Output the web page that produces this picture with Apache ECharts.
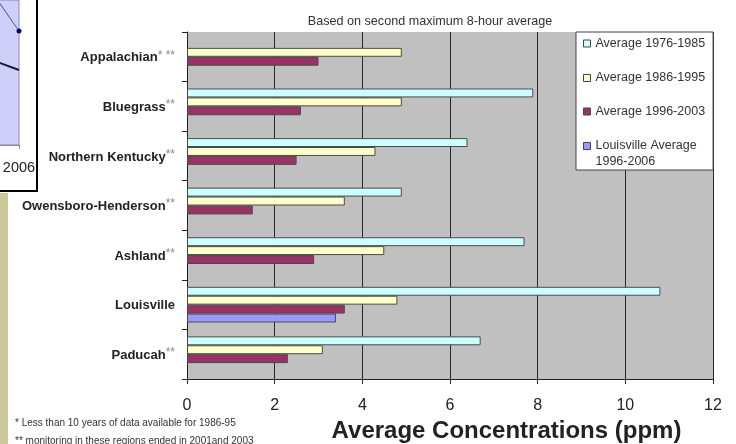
<!DOCTYPE html>
<html>
<head>
<meta charset="utf-8">
<script src="https://cdn.jsdelivr.net/npm/echarts@6/dist/echarts.min.js"></script>
<style>
  html, body { margin: 0; padding: 0; background: #fff; }
  #chart { width: 736px; height: 444px; }
</style>
</head>
<body>
<div id="chart"></div>
<script>
// Regions (top to bottom); asterisks mark the footnotes below the chart
const regions = [
  'Appalachian* **',
  'Bluegrass**',
  'Northern Kentucky**',
  'Owensboro-Henderson**',
  'Ashland**',
  'Louisville',
  'Paducah**'
];

// Average ozone concentrations (ppm) per period
const avg1976to1985 = [null, 7.9, 6.4, 4.9, 7.7, 10.8, 6.7];
const avg1986to1995 = [4.9, 4.9, 4.3, 3.6, 4.5, 4.8, 3.1];
const avg1996to2003 = [3.0, 2.6, 2.5, 1.5, 2.9, 3.6, 2.3];
const louisville1996to2006 = [null, null, null, null, null, 3.4, null];

const seriesNames = [
  'Average 1976-1985',
  'Average 1986-1995',
  'Average 1996-2003',
  'Louisville Average 1996-2006'
];

const xTicks = { min: 0, max: 12, step: 2 };

// Edge of the neighbouring trend chart (last years only)
const trendYears = ['2004', '2005', '2006'];
const trendUpper = [1.2, 0.99, 0.786];
const trendLower = [0.6, 0.569, 0.517];

const footnotes = [
  '* Less than 10 years of data available for 1986-95',
  '** monitoring in these regions ended in 2001and 2003'
];

const colors = ['#CCFFFF', '#FFFFCC', '#993366', '#9999FF'];
const seriesData = [avg1976to1985, avg1986to1995, avg1996to2003, louisville1996to2006];

const chart = echarts.init(document.getElementById('chart'), null, { renderer: 'canvas' });

function regionLabel(v) {
  const i = v.indexOf('*');
  if (i < 0) return '{n|' + v + '}';
  return '{n|' + v.slice(0, i) + '}{s|' + v.slice(i) + '}';
}

// Row heights of the legend entries; the two-line entry keeps its swatch on the first line
const legendItemStyles = [
  { lineHeight: 23 },
  { lineHeight: 46 },
  { lineHeight: 21 },
  { lineHeight: 16 }
];

const option = {
  animation: false,
  backgroundColor: '#ffffff',
  title: {
    text: 'Based on second maximum 8-hour average',
    left: 425,
    top: 10,
    textAlign: 'center',
    textStyle: { fontFamily: 'Arial, Liberation Sans', fontSize: 12.6, fontWeight: 'normal', color: '#333' }
  },
  legend: {
    orient: 'vertical',
    left: 576,
    top: 32,
    padding: [0, 8, 0, 7],
    itemGap: 0,
    itemWidth: 7,
    itemHeight: 7,
    icon: 'rect',
    backgroundColor: '#ffffff',
    borderColor: '#444',
    borderWidth: 1,
    borderRadius: 0,
    textStyle: {
      fontFamily: 'Arial, Liberation Sans',
      fontSize: 12.5,
      color: '#333'
    },
    itemStyle: { borderColor: '#444', borderWidth: 1 },
    formatter: function (name) {
      return name === seriesNames[3] ? ' \nLouisville Average\n1996-2006' : name;
    },
    data: seriesNames.map(function (n, i) {
      return { name: n, textStyle: legendItemStyles[i] };
    }),
    selectedMode: false
  },
  grid: [
    {
      left: 187, top: 32, width: 526, height: 347,
      outerBoundsMode: 'none', containLabel: false,
      show: true, backgroundColor: '#C0C0C0', borderWidth: 0
    },
    {
      left: -22, top: 0, width: 41, height: 145,
      outerBoundsMode: 'none', containLabel: false,
      show: true, backgroundColor: '#CFCFFA', borderColor: '#8a8a9a', borderWidth: 1
    }
  ],
  xAxis: [
    {
      type: 'value',
      gridIndex: 0,
      min: xTicks.min,
      max: xTicks.max,
      interval: xTicks.step,
      name: 'Average Concentrations (ppm)',
      nameLocation: 'middle',
      nameGap: 38,
      nameTextStyle: {
        fontFamily: 'Arial, Liberation Sans',
        fontSize: 24,
        fontWeight: 'bold',
        color: '#222',
        padding: [0, 0, 0, 113]
      },
      axisLine: { show: true, lineStyle: { color: '#222', width: 1 } },
      axisTick: { show: true, length: 5, lineStyle: { color: '#222' } },
      axisLabel: { margin: 19, fontFamily: 'Arial, Liberation Sans', fontSize: 16, color: '#222' },
      splitLine: { show: true, lineStyle: { color: '#2a2a2a', width: 1 } }
    },
    {
      type: 'category',
      gridIndex: 1,
      data: trendYears,
      boundaryGap: false,
      axisLine: { show: true, lineStyle: { color: '#8a8a9a' } },
      axisTick: { show: true, length: 4, lineStyle: { color: '#8a8a9a' } },
      axisLabel: {
        margin: 15,
        fontFamily: 'Arial, Liberation Sans',
        fontSize: 14.5,
        color: '#222',
        interval: function (i) { return i === trendYears.length - 1; }
      },
      splitLine: { show: false }
    }
  ],
  yAxis: [
    {
      type: 'category',
      gridIndex: 0,
      inverse: true,
      data: regions,
      axisLine: { show: true, lineStyle: { color: '#222', width: 1 } },
      axisTick: { show: true, length: 5, lineStyle: { color: '#222' } },
      axisLabel: {
        margin: 12,
        formatter: regionLabel,
        rich: {
          n: { fontFamily: 'Arial, Liberation Sans', fontSize: 13, fontWeight: 'bold', color: '#222', padding: [2, 0, 0, 0] },
          s: { fontFamily: 'Arial, Liberation Sans', fontSize: 12, color: '#8a8a8a', verticalAlign: 'top' }
        }
      },
      splitLine: { show: false }
    },
    {
      type: 'value',
      gridIndex: 1,
      min: 0,
      max: 1,
      show: false
    }
  ],
  series: seriesData.map(function (d, i) {
    return {
      name: seriesNames[i],
      type: 'bar',
      xAxisIndex: 0,
      yAxisIndex: 0,
      data: d,
      barGap: 0,
      barCategoryGap: '28%',
      itemStyle: { color: colors[i], borderColor: '#4a4a4a', borderWidth: 1 }
    };
  }).concat([
    {
      name: 'trend-upper',
      type: 'line',
      xAxisIndex: 1,
      yAxisIndex: 1,
      data: trendUpper.map(function (v, i) {
        return i === trendUpper.length - 1 ? { value: v, symbolSize: 5 } : { value: v, symbolSize: 0 };
      }),
      symbol: 'circle',
      showSymbol: true,
      smooth: true,
      lineStyle: { color: '#3a4aa8', width: 1 },
      itemStyle: { color: '#0a0a6a' },
      clip: true
    },
    {
      name: 'trend-lower',
      type: 'line',
      xAxisIndex: 1,
      yAxisIndex: 1,
      data: trendLower,
      showSymbol: false,
      lineStyle: { color: '#181838', width: 2 },
      clip: true
    }
  ]),
  graphic: [
    // neighbouring chart frame
    { type: 'rect', z: -10, shape: { x: 0, y: 0, width: 37, height: 190 }, style: { fill: '#ffffff' } },
    { type: 'line', z: 10, shape: { x1: 37, y1: 0, x2: 37, y2: 191 }, style: { stroke: '#000', lineWidth: 2 } },
    { type: 'line', z: 10, shape: { x1: 0, y1: 191, x2: 38, y2: 191 }, style: { stroke: '#000', lineWidth: 2 } },
    // slide side strip
    { type: 'rect', z: 10, shape: { x: 0, y: 193, width: 8, height: 251 }, style: { fill: '#CCC89A' } },
    // footnotes
    { type: 'text', left: 15, top: 418, style: { text: footnotes[0], font: '10px Arial, Liberation Sans', fill: '#333' } },
    { type: 'text', left: 15, top: 436, style: { text: footnotes[1], font: '10px Arial, Liberation Sans', fill: '#333' } }
  ]
};

chart.setOption(option);
</script>
</body>
</html>
